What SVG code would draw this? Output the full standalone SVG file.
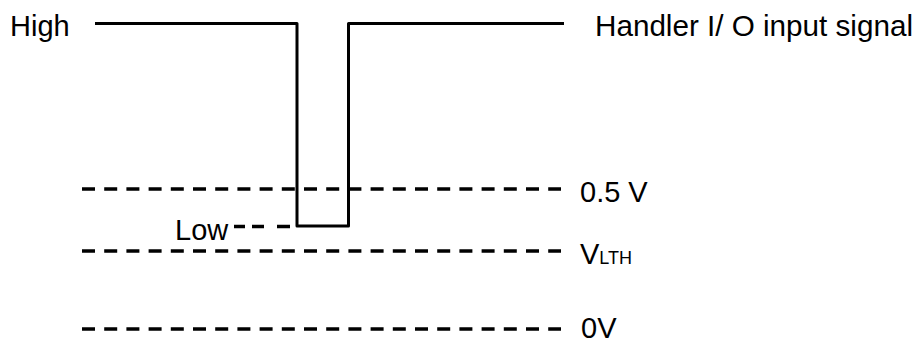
<svg xmlns="http://www.w3.org/2000/svg" width="919" height="343" viewBox="0 0 919 343">
<style>
text { font-family: "Liberation Sans", Arial, sans-serif; font-size: 29px; fill: #000; }
.sub { font-size: 18px; }
.sig { fill: none; stroke: #000; stroke-width: 3; stroke-linejoin: round; }
.dash { fill: none; stroke: #000; stroke-width: 3.5; stroke-dasharray: 13 9.2; }
.ldash { fill: none; stroke: #000; stroke-width: 3.5; }
</style>
<rect width="919" height="343" fill="#fff"/>
<g id="connectors">
<path class="sig" d="M95 23.5 H297 V226 H348.5 V23.5 H564"/>
<path class="dash" d="M82 189 H561"/>
<path class="dash" d="M82 251 H561"/>
<path class="dash" d="M82 329 H561"/>
<path class="ldash" d="M234 226.5 H245 M252 226.5 H264 M277 226.5 H290"/>
</g>
<g id="label-high"><text x="10" y="36">High</text></g>
<g id="label-signal"><text x="595" y="36" textLength="318" lengthAdjust="spacingAndGlyphs">Handler I/ O input signal</text></g>
<g id="label-low"><text x="175" y="240">Low</text></g>
<g id="label-05v"><text x="580" y="202">0.5 V</text></g>
<g id="label-vlth"><text x="580" y="264">V<tspan class="sub">LTH</tspan></text></g>
<g id="label-0v"><text x="581" y="338">0V</text></g>
</svg>
